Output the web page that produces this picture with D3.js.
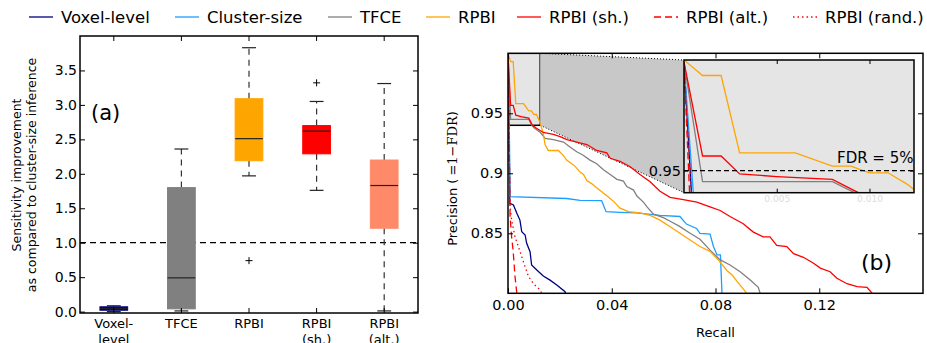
<!DOCTYPE html>
<html>
<head>
<meta charset="utf-8">
<script src="https://cdn.jsdelivr.net/npm/d3@7"></script>
<style>
  body { margin: 0; background: #fff; }
  svg { display: block; font-family: "DejaVu Sans", sans-serif; }
</style>
</head>
<body>
<div id="chart"></div>
<script>
// ---- values ----
const seriesNames = ["Voxel-level", "Cluster-size", "TFCE", "RPBI", "RPBI (sh.)", "RPBI (alt.)", "RPBI (rand.)"];

// (a) box plots
const categories = ["Voxel-\nlevel", "TFCE", "RPBI", "RPBI\n(sh.)", "RPBI\n(alt.)"];
const boxQ1   = [0.02, 0.04, 2.19, 2.29, 1.21];
const boxMed  = [0.045, 0.49, 2.51, 2.62, 1.83];
const boxQ3   = [0.07, 1.80, 3.09, 2.70, 2.20];
const whiskLo = [0.00, 0.01, 1.97, 1.76, 0.01];
const whiskHi = [0.085, 2.36, 3.83, 3.05, 3.31];
const fliers  = [[], [], [0.74], [3.32], []];
const yTicksA = [0, 0.5, 1, 1.5, 2, 2.5, 3, 3.5];
const refLevel = 1.0;

// (b) precision / recall curves  [recall, precision]
const prVoxel = [[0,0.999],[0.0004,0.94],[0.0007,0.875],[0.0021,0.8736],[0.0034,0.8667],[0.0046,0.861],
  [0.0053,0.8513],[0.0066,0.8486],[0.0072,0.8417],[0.0085,0.8347],[0.0091,0.8236],[0.0111,0.8194],
  [0.0136,0.8144],[0.0162,0.811],[0.0188,0.807],[0.0220,0.8014],[0.0222,0.800]];
const prCluster = [[0,0.999],[0.0005,0.94],[0.0008,0.8805],[0.0226,0.879],[0.0278,0.8775],[0.0361,0.8772],
  [0.0378,0.868],[0.0432,0.8675],[0.0494,0.867],[0.0586,0.865],[0.0663,0.864],[0.0688,0.8577],
  [0.0727,0.854],[0.0740,0.850],[0.0779,0.8494],[0.0792,0.839],[0.0806,0.832],[0.0819,0.832],[0.0825,0.800]];
const prTFCE = [[0,0.999],[0.001,0.945],[0.008,0.945],[0.0092,0.940],[0.0100,0.938],[0.0125,0.934],
  [0.0143,0.929],[0.0175,0.928],[0.0214,0.926],[0.0239,0.922],[0.0265,0.918],[0.0290,0.915],
  [0.0316,0.911],[0.0342,0.908],[0.0368,0.903],[0.0394,0.899],[0.0420,0.895],[0.0445,0.8935],
  [0.0458,0.889],[0.0484,0.886],[0.0497,0.881],[0.0522,0.876],[0.0536,0.872],[0.0561,0.866],
  [0.0599,0.863],[0.0625,0.860],[0.0660,0.856],[0.0702,0.850],[0.0740,0.845],[0.0779,0.836],
  [0.0817,0.828],[0.0856,0.8236],[0.0895,0.818],[0.0934,0.811],[0.0965,0.805],[0.0972,0.800]];
const prRPBI = [[0,1.0],[0.001,0.993],[0.002,0.993],[0.003,0.958],[0.006,0.958],[0.008,0.952],
  [0.009,0.952],[0.010,0.949],[0.011,0.949],[0.012,0.944],[0.0128,0.939],[0.0136,0.933],
  [0.0143,0.924],[0.0155,0.919],[0.0194,0.919],[0.0213,0.915],[0.0226,0.911],[0.0246,0.908],
  [0.0258,0.906],[0.0278,0.901],[0.0291,0.899],[0.0304,0.894],[0.0325,0.891],[0.0342,0.888],
  [0.0365,0.884],[0.0394,0.879],[0.0410,0.876],[0.0432,0.871],[0.0464,0.868],[0.0509,0.867],
  [0.0548,0.865],[0.0586,0.861],[0.0625,0.8555],[0.0663,0.850],[0.0702,0.8444],[0.0740,0.839],
  [0.0779,0.835],[0.0810,0.828],[0.0844,0.819],[0.0865,0.815],[0.0883,0.810],[0.0921,0.800]];
const prRPBIsh = [[0,0.999],[0.001,0.9566],[0.002,0.9566],[0.003,0.9485],[0.005,0.9473],[0.008,0.946],
  [0.0094,0.940],[0.0110,0.9375],[0.0136,0.934],[0.0175,0.9325],[0.0201,0.9305],[0.0227,0.928],
  [0.0265,0.926],[0.0304,0.924],[0.0342,0.919],[0.0381,0.917],[0.0394,0.9125],[0.0432,0.910],
  [0.0471,0.9055],[0.0509,0.899],[0.0548,0.893],[0.0586,0.885],[0.0625,0.880],[0.0676,0.878],
  [0.0728,0.876],[0.0779,0.872],[0.0818,0.869],[0.0856,0.864],[0.0907,0.858],[0.0946,0.851],
  [0.0984,0.847],[0.1010,0.847],[0.1036,0.840],[0.1075,0.839],[0.1101,0.833],[0.1139,0.830],
  [0.1178,0.825],[0.1204,0.821],[0.1242,0.818],[0.1268,0.8125],[0.1307,0.808],[0.1346,0.8055],
  [0.1384,0.805],[0.1404,0.800]];
const prRPBIalt = [[0,0.998],[0.0003,0.94],[0.0006,0.90],[0.0008,0.864],[0.0014,0.847],
  [0.0020,0.835],[0.0027,0.814],[0.0034,0.800]];
const prRPBIrand = [[0,0.998],[0.0004,0.94],[0.0008,0.872],[0.0014,0.861],[0.0027,0.847],
  [0.0040,0.839],[0.0053,0.8305],[0.0066,0.822],[0.0079,0.814],[0.0098,0.808],[0.0123,0.803],[0.0130,0.800]];

const xTicksB = [0, 0.04, 0.08, 0.12];
const yTicksB = [0.85, 0.9, 0.95];
const insetX = [0, 0.0124];
const insetY = [0.94, 1.0];
const insetXTicks = [0.005, 0.010];
const fdrLevel = 0.95;

// ---- styles ----
const COLORS = {
  "Voxel-level": "#000080",
  "Cluster-size": "#1e9eff",
  "TFCE": "#808080",
  "RPBI": "#ffa500",
  "RPBI (sh.)": "#ff0000",
  "RPBI (alt.)": "#ff0000",
  "RPBI (rand.)": "#ff0000"
};
const DASH = { "RPBI (alt.)": "7,4", "RPBI (rand.)": "1.5,3" };
const BOX_COLORS = ["#000080", "#808080", "#ffa500", "#ff0000", "#ff8a6a"];
const FONT = '"DejaVu Sans", sans-serif';
const LEGEND_X = [29, 175, 328, 426, 517, 654, 793];

const curves = [
  ["Voxel-level", prVoxel],
  ["Cluster-size", prCluster],
  ["TFCE", prTFCE],
  ["RPBI", prRPBI],
  ["RPBI (sh.)", prRPBIsh],
  ["RPBI (alt.)", prRPBIalt],
  ["RPBI (rand.)", prRPBIrand]
];

const W = 927, H = 343;
const svg = d3.select("#chart").append("svg")
  .attr("width", W).attr("height", H)
  .attr("viewBox", `0 0 ${W} ${H}`);

function styleAxis(g, size) {
  g.select(".domain").remove();
  g.attr("font-family", FONT).attr("font-size", size);
  g.selectAll(".tick line").attr("stroke", "#000").attr("stroke-width", 1);
  g.selectAll(".tick text").attr("fill", "#000");
}

// ---- legend ----
const legend = svg.append("g").attr("font-family", FONT).attr("font-size", 16.5);
seriesNames.forEach((name, i) => {
  const lx = LEGEND_X[i];
  legend.append("line")
    .attr("x1", lx).attr("x2", lx + 24).attr("y1", 17).attr("y2", 17)
    .attr("stroke", COLORS[name]).attr("stroke-width", 1.3)
    .attr("stroke-dasharray", DASH[name] || null);
  legend.append("text")
    .attr("x", lx + 32).attr("y", 17).attr("dy", "0.35em")
    .text(name);
});

// ================= (a) box plots =================
const A = { x0: 80, x1: 418, y0: 36, y1: 313 };
const xA = d3.scaleBand().domain(categories).range([A.x0, A.x1]);
const yA = d3.scaleLinear().domain([-0.02, 4.0]).range([A.y1, A.y0]);
const boxW = xA.bandwidth() * 0.41;
const gA = svg.append("g");

gA.append("line")
  .attr("x1", A.x0).attr("x2", A.x1)
  .attr("y1", yA(refLevel)).attr("y2", yA(refLevel))
  .attr("stroke", "#000").attr("stroke-width", 1.2)
  .attr("stroke-dasharray", "6,4");

categories.forEach((c, i) => {
  const cx = xA(c) + xA.bandwidth() / 2;
  const g = gA.append("g");
  // whiskers
  [[boxQ3[i], whiskHi[i]], [boxQ1[i], whiskLo[i]]].forEach(([a, b]) => {
    g.append("line")
      .attr("x1", cx).attr("x2", cx).attr("y1", yA(a)).attr("y2", yA(b))
      .attr("stroke", "#333").attr("stroke-width", 1.2)
      .attr("stroke-dasharray", "6,5");
    g.append("line")
      .attr("x1", cx - boxW / 4).attr("x2", cx + boxW / 4)
      .attr("y1", yA(b)).attr("y2", yA(b))
      .attr("stroke", "#222").attr("stroke-width", 1.2);
  });
  g.append("rect")
    .attr("x", cx - boxW / 2).attr("width", boxW)
    .attr("y", yA(boxQ3[i])).attr("height", Math.max(yA(boxQ1[i]) - yA(boxQ3[i]), 1))
    .attr("fill", BOX_COLORS[i]).attr("stroke", BOX_COLORS[i]).attr("stroke-width", 1);
  g.append("line")
    .attr("x1", cx - boxW / 2).attr("x2", cx + boxW / 2)
    .attr("y1", yA(boxMed[i])).attr("y2", yA(boxMed[i]))
    .attr("stroke", "#222").attr("stroke-width", 1.2);
  fliers[i].forEach(v => {
    g.append("path")
      .attr("d", `M${cx - 3.5},${yA(v)}h7M${cx},${yA(v) - 3.5}v7`)
      .attr("stroke", "#000").attr("stroke-width", 1);
  });
});

svg.append("g").attr("transform", `translate(${A.x0},0)`)
  .call(d3.axisLeft(yA).tickValues(yTicksA).tickFormat(d3.format(".1f")).tickSize(-5).tickPadding(3))
  .call(styleAxis, 14);
svg.append("g").attr("transform", `translate(${A.x1},0)`)
  .call(d3.axisRight(yA).tickValues(yTicksA).tickFormat("").tickSize(-5))
  .call(styleAxis, 14);
svg.append("g").attr("transform", `translate(0,${A.y0})`)
  .call(d3.axisTop(xA).tickFormat("").tickSize(-5))
  .call(styleAxis, 13);
svg.append("g").attr("transform", `translate(0,${A.y1})`)
  .call(d3.axisBottom(xA).tickFormat("").tickSize(-5))
  .call(styleAxis, 13);

const xLab = svg.append("g").attr("font-family", FONT).attr("font-size", 13).attr("text-anchor", "middle");
categories.forEach(c => {
  const t = xLab.append("text").attr("x", xA(c) + xA.bandwidth() / 2).attr("y", 328);
  c.split("\n").forEach((line, j) => {
    t.append("tspan").attr("x", xA(c) + xA.bandwidth() / 2).attr("dy", j ? 15.5 : 0).text(line);
  });
});

svg.append("rect")
  .attr("x", A.x0).attr("y", A.y0).attr("width", A.x1 - A.x0).attr("height", A.y1 - A.y0)
  .attr("fill", "none").attr("stroke", "#000").attr("stroke-width", 1.5);

const yLabA = svg.append("text")
  .attr("transform", `translate(24,175) rotate(-90)`)
  .attr("text-anchor", "middle").attr("font-family", FONT).attr("font-size", 12.5);
yLabA.append("tspan").attr("x", 0).attr("dy", "-0.25em").text("Sensitivity improvement");
yLabA.append("tspan").attr("x", 0).attr("dy", "1.2em").text("as compared to cluster-size inference");

svg.append("text").attr("x", 91).attr("y", 120)
  .attr("font-family", FONT).attr("font-size", 21).text("(a)");

// ================= (b) precision / recall =================
const B = { x0: 508, x1: 923, y0: 53.3, y1: 293.3 };
const xB = d3.scaleLinear().domain([0, 0.16]).range([B.x0, B.x1]);
const yB = d3.scaleLinear().domain([0.8, 1.0]).range([B.y1, B.y0]);

const defs = svg.append("defs");
defs.append("clipPath").attr("id", "clipB").append("rect")
  .attr("x", B.x0).attr("y", B.y0).attr("width", B.x1 - B.x0).attr("height", B.y1 - B.y0);

// inset frame (position) and its scales
const I = { x0: 684, x1: 914, y0: 60, y1: 192.7 };
const xI = d3.scaleLinear().domain(insetX).range([I.x0, I.x1]);
const yI = d3.scaleLinear().domain(insetY).range([I.y1, I.y0]);
defs.append("clipPath").attr("id", "clipI").append("rect")
  .attr("x", I.x0).attr("y", I.y0).attr("width", I.x1 - I.x0).attr("height", I.y1 - I.y0);

const gB = svg.append("g").attr("clip-path", "url(#clipB)");

// zoomed region marker
const rx0 = xB(insetX[0]), rx1 = xB(insetX[1]), ry0 = yB(insetY[1]), ry1 = yB(insetY[0]);
gB.append("rect")
  .attr("x", rx0).attr("y", ry0).attr("width", rx1 - rx0).attr("height", ry1 - ry0)
  .attr("fill", "#e5e5e5").attr("stroke", "#000").attr("stroke-width", 1.5);
gB.append("path")
  .attr("d", `M${rx1},${ry0}L${I.x0},${I.y0}L${I.x0},${I.y1}L${rx1},${ry1}Z`)
  .attr("fill", "#c8c8c8");
gB.append("path")
  .attr("d", `M${rx1},${ry0}L${I.x0},${I.y0}M${rx1},${ry1}L${I.x0},${I.y1}`)
  .attr("fill", "none").attr("stroke", "#000").attr("stroke-width", 1)
  .attr("stroke-dasharray", "1,2");

const lineB = d3.line().x(d => xB(d[0])).y(d => yB(d[1]));
curves.forEach(([name, data]) => {
  gB.append("path").datum(data)
    .attr("d", lineB)
    .attr("fill", "none").attr("stroke", COLORS[name]).attr("stroke-width", 1.3)
    .attr("stroke-dasharray", DASH[name] || null);
});

// inset
const gI = svg.append("g");
gI.append("rect")
  .attr("x", I.x0).attr("y", I.y0).attr("width", I.x1 - I.x0).attr("height", I.y1 - I.y0)
  .attr("fill", "#e5e5e5");
const gIc = gI.append("g").attr("clip-path", "url(#clipI)");
const lineI = d3.line().x(d => xI(d[0])).y(d => yI(d[1]));
curves.forEach(([name, data]) => {
  gIc.append("path").datum(data)
    .attr("d", lineI)
    .attr("fill", "none").attr("stroke", COLORS[name]).attr("stroke-width", 1.3)
    .attr("stroke-dasharray", DASH[name] || null);
});
gIc.append("line")
  .attr("x1", I.x0).attr("x2", I.x1).attr("y1", yI(fdrLevel)).attr("y2", yI(fdrLevel))
  .attr("stroke", "#000").attr("stroke-width", 1.3).attr("stroke-dasharray", "5,3");
gI.append("text").attr("x", 837).attr("y", 163)
  .attr("font-family", FONT).attr("font-size", 15).text("FDR = 5%");

gI.append("g").attr("transform", `translate(${I.x0},0)`)
  .call(d3.axisLeft(yI).tickValues([fdrLevel]).tickFormat(d3.format("")).tickSize(-4).tickPadding(3))
  .call(styleAxis, 14.5);
gI.append("g").attr("transform", `translate(${I.x1},0)`)
  .call(d3.axisRight(yI).tickValues([fdrLevel]).tickFormat("").tickSize(-4))
  .call(styleAxis, 14.5);
gI.append("g").attr("transform", `translate(0,${I.y0})`)
  .call(d3.axisTop(xI).tickValues(insetXTicks).tickFormat("").tickSize(-4))
  .call(styleAxis, 9);
const insetBottom = gI.append("g").attr("transform", `translate(0,${I.y1})`)
  .call(d3.axisBottom(xI).tickValues(insetXTicks).tickFormat(d3.format(".3f")).tickSize(-4).tickPadding(3))
  .call(styleAxis, 9);
insetBottom.selectAll(".tick text").attr("fill", "#dcdcdc");
gI.append("rect")
  .attr("x", I.x0).attr("y", I.y0).attr("width", I.x1 - I.x0).attr("height", I.y1 - I.y0)
  .attr("fill", "none").attr("stroke", "#000").attr("stroke-width", 1.5);

// main axes of (b)
svg.append("g").attr("transform", `translate(${B.x0},0)`)
  .call(d3.axisLeft(yB).tickValues(yTicksB).tickFormat(d3.format("")).tickSize(-5).tickPadding(5))
  .call(styleAxis, 14.5);
svg.append("g").attr("transform", `translate(${B.x1},0)`)
  .call(d3.axisRight(yB).tickValues(yTicksB).tickFormat("").tickSize(-5))
  .call(styleAxis, 14.5);
svg.append("g").attr("transform", `translate(0,${B.y1})`)
  .call(d3.axisBottom(xB).tickValues(xTicksB).tickFormat(d3.format(".2f")).tickSize(-5).tickPadding(6))
  .call(styleAxis, 14.5);
svg.append("g").attr("transform", `translate(0,${B.y0})`)
  .call(d3.axisTop(xB).tickValues(xTicksB).tickFormat("").tickSize(-5))
  .call(styleAxis, 14.5);
svg.append("rect")
  .attr("x", B.x0).attr("y", B.y0).attr("width", B.x1 - B.x0).attr("height", B.y1 - B.y0)
  .attr("fill", "none").attr("stroke", "#000").attr("stroke-width", 1.5);

svg.append("text").attr("x", (B.x0 + B.x1) / 2).attr("y", 337)
  .attr("text-anchor", "middle").attr("font-family", FONT).attr("font-size", 13).text("Recall");

const yLabB = svg.append("text")
  .attr("transform", `translate(457,178.5) rotate(-90)`)
  .attr("text-anchor", "middle").attr("font-family", FONT).attr("font-size", 13);
yLabB.append("tspan").text("Precision (");
yLabB.append("tspan").attr("font-family", '"DejaVu Serif", serif').attr("dx", 3).text("=1\u2212FDR");
yLabB.append("tspan").text(")");

svg.append("text").attr("x", 861).attr("y", 270)
  .attr("font-family", FONT).attr("font-size", 22).text("(b)");
</script>
</body>
</html>
